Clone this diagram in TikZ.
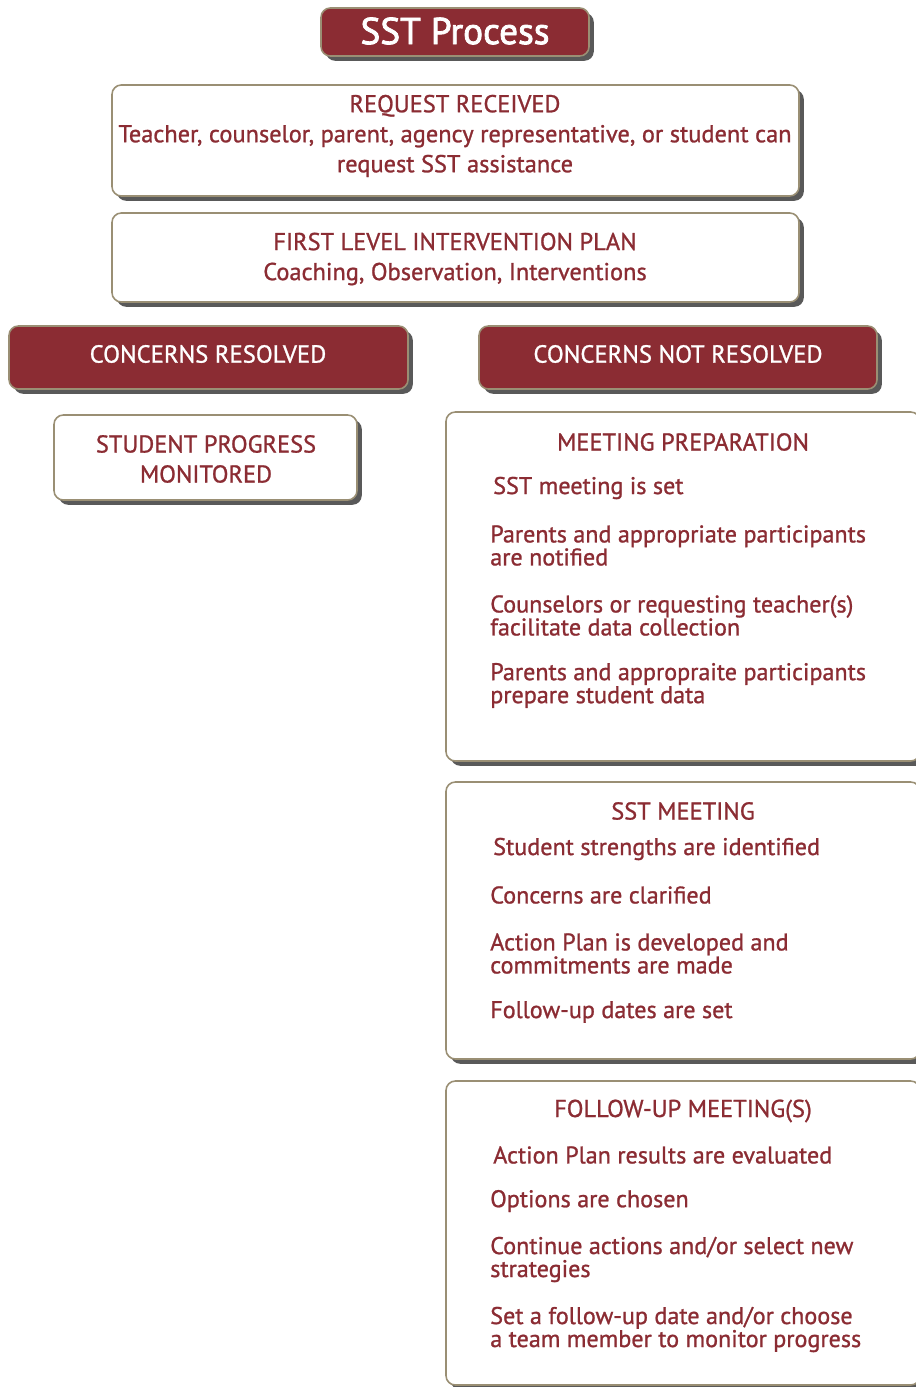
\documentclass[tikz,border=0pt]{standalone}
\usepackage{fontspec}
\setmainfont{PT Sans}[FakeBold=1.0]
\newfontfamily\titlefont{PT Sans}[FakeBold=2.2]
\usetikzlibrary{shadows}
\definecolor{sstred}{HTML}{8B2C33}
\definecolor{sstrim}{HTML}{9A8F74}
\definecolor{sstshadow}{HTML}{3C3C3C}
\tikzset{
  box/.style 2 args={draw=sstrim, line width=1.2pt, rounded corners=7pt,
    minimum width={#1*0.75pt}, minimum height={#2*0.75pt}, inner sep=0pt,
    drop shadow={shadow xshift=3.6pt, shadow yshift=-3.6pt, fill=sstshadow, opacity=0.85}},
  redbox/.style 2 args={box={#1}{#2}, fill=sstred},
  whitebox/.style 2 args={box={#1}{#2}, fill=white},
  head/.style={text=sstred, align=center, inner sep=0pt,
    font=\fontsize{18.3}{22.5}\selectfont},
  redhead/.style={text=white, inner sep=0pt, font=\fontsize{18.5}{22}\selectfont},
  item/.style={text=sstred, align=left, anchor=west, inner sep=0pt,
    font=\fontsize{18.1}{17.25}\selectfont},
}
\begin{document}
\begin{tikzpicture}[x=0.75pt, y=-0.75pt]
\useasboundingbox (0,0) rectangle (916,1387);
\clip (0,0) rectangle (916,1387);

% title
\node[redbox={268}{48}] (title) at (455,32) {};
\node[text=white, inner sep=0pt, font=\titlefont\fontsize{28}{30}\selectfont] (titletext) at (455,31) {SST Process};

% request
\node[whitebox={687}{111}] (req) at (455.5,140.5) {};
\node[head] (reqtext) at (455,136) {REQUEST RECEIVED\\Teacher, counselor, parent, agency representative, or student can\\request SST assistance};

% first level plan
\node[whitebox={687}{89}] (first) at (455.5,257.5) {};
\node[head] (firsttext) at (455,259) {FIRST LEVEL INTERVENTION PLAN\\Coaching, Observation, Interventions};

% outcome bars
\node[redbox={399}{63}] (res) at (208.5,357.5) {};
\node[redhead] (restext) at (208,354) {CONCERNS RESOLVED};
\node[redbox={398}{63}] (notres) at (678,357.5) {};
\node[redhead] (notrestext) at (678,354) {CONCERNS NOT RESOLVED};

% resolved branch
\node[whitebox={303}{85}] (spm) at (205.5,457.5) {};
\node[head] (spmtext) at (206,459) {STUDENT PROGRESS\\MONITORED};

% meeting preparation
\node[whitebox={474}{349}] (prep) at (683,586.5) {};
\node[head] (preptitle) at (683,442) {MEETING PREPARATION};
\node[item] (prep1) at (493,488) {SST meeting is set};
\node[item] (prep2) at (490,545.5) {Parents and appropriate participants\\are notified};
\node[item] (prep3) at (490,615.5) {Counselors or requesting teacher(s)\\facilitate data collection};
\node[item] (prep4) at (490,685.5) {Parents and appropraite participants\\prepare student data};

% SST meeting
\node[whitebox={474}{277}] (meet) at (683,920.5) {};
\node[head] (meettitle) at (683,811) {SST MEETING};
\node[item] (meet1) at (493,849) {Student strengths are identified};
\node[item] (meet2) at (490,895) {Concerns are clarified};
\node[item] (meet3) at (490,953.5) {Action Plan is developed and\\commitments are made};
\node[item] (meet4) at (490,1012) {Follow-up dates are set};

% follow-up meetings
\node[whitebox={474}{304}] (follow) at (683,1233) {};
\node[head] (followtitle) at (683,1111) {FOLLOW-UP MEETING(S)};
\node[item] (follow1) at (493,1155) {Action Plan results are evaluated};
\node[item] (follow2) at (490,1201) {Options are chosen};
\node[item] (follow3) at (490,1259.5) {Continue actions and/or select new\\strategies};
\node[item] (follow4) at (490,1329.5) {Set a follow-up date and/or choose\\a team member to monitor progress};
\end{tikzpicture}
\end{document}
